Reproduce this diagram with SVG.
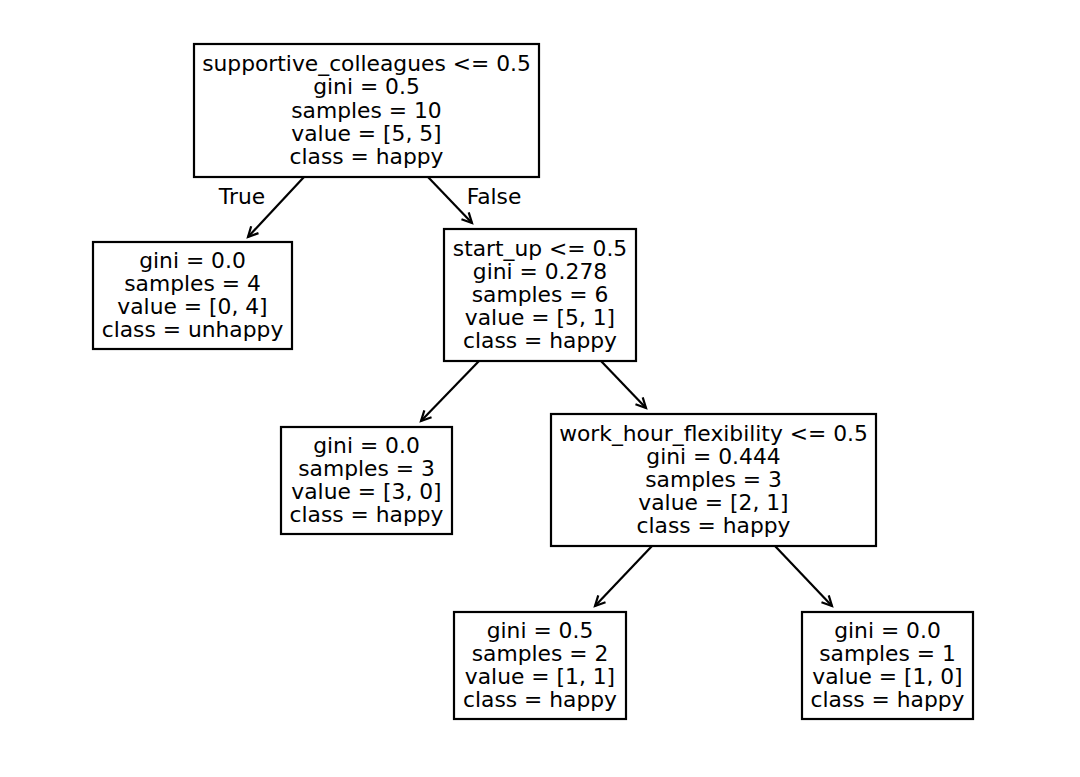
<svg xmlns="http://www.w3.org/2000/svg" width="1080" height="777" viewBox="0 0 1080 777">
<style>
text{font-family:"DejaVu Sans","Liberation Sans",sans-serif;font-size:21.8px;fill:#000;text-anchor:middle}
.box{fill:#fff;stroke:#000;stroke-width:2.2}
.edge{stroke:#000;stroke-width:2.2;fill:none}
</style>
<defs>
<marker id="arr" markerUnits="userSpaceOnUse" markerWidth="24" markerHeight="24" refX="0" refY="0" viewBox="-12 -12 24 24" orient="auto" overflow="visible">
<path d="M-10,-5 L0,0 L-10,5" fill="none" stroke="#000" stroke-width="2.2"/>
</marker>
</defs>
<rect width="1080" height="777" fill="#fff"/>
<g id="connectors">
<line class="edge" x1="304" y1="177" x2="248" y2="237" marker-end="url(#arr)"/>
<line class="edge" x1="428" y1="177" x2="472" y2="223" marker-end="url(#arr)"/>
<line class="edge" x1="479" y1="361" x2="421" y2="421" marker-end="url(#arr)"/>
<line class="edge" x1="601" y1="361" x2="646" y2="408" marker-end="url(#arr)"/>
<line class="edge" x1="652" y1="546" x2="595" y2="606" marker-end="url(#arr)"/>
<line class="edge" x1="775" y1="546" x2="832" y2="606" marker-end="url(#arr)"/>
<text x="242" y="204">True</text>
<text x="494" y="204">False</text>
</g>
<g id="node0">
<rect class="box" x="194" y="44" width="345" height="133"/>
<text><tspan x="366.5" y="71.1">supportive_colleagues &lt;= 0.5</tspan><tspan x="366.5" y="94.3">gini = 0.5</tspan><tspan x="366.5" y="117.5">samples = 10</tspan><tspan x="366.5" y="140.7">value = [5, 5]</tspan><tspan x="366.5" y="163.9">class = happy</tspan></text>
</g>
<g id="node1">
<rect class="box" x="93" y="242" width="199" height="107"/>
<text><tspan x="192.5" y="267.7">gini = 0.0</tspan><tspan x="192.5" y="290.9">samples = 4</tspan><tspan x="192.5" y="314.1">value = [0, 4]</tspan><tspan x="192.5" y="337.3">class = unhappy</tspan></text>
</g>
<g id="node2">
<rect class="box" x="444" y="229" width="192" height="132"/>
<text><tspan x="540" y="255.6">start_up &lt;= 0.5</tspan><tspan x="540" y="278.8">gini = 0.278</tspan><tspan x="540" y="302">samples = 6</tspan><tspan x="540" y="325.2">value = [5, 1]</tspan><tspan x="540" y="348.4">class = happy</tspan></text>
</g>
<g id="node3">
<rect class="box" x="281" y="427" width="171" height="107"/>
<text><tspan x="366.5" y="452.7">gini = 0.0</tspan><tspan x="366.5" y="475.9">samples = 3</tspan><tspan x="366.5" y="499.1">value = [3, 0]</tspan><tspan x="366.5" y="522.3">class = happy</tspan></text>
</g>
<g id="node4">
<rect class="box" x="551" y="414" width="325" height="132"/>
<text><tspan x="713.5" y="440.6">work_hour_flexibility &lt;= 0.5</tspan><tspan x="713.5" y="463.8">gini = 0.444</tspan><tspan x="713.5" y="487">samples = 3</tspan><tspan x="713.5" y="510.2">value = [2, 1]</tspan><tspan x="713.5" y="533.4">class = happy</tspan></text>
</g>
<g id="node5">
<rect class="box" x="454" y="612" width="172" height="107"/>
<text><tspan x="540" y="637.7">gini = 0.5</tspan><tspan x="540" y="660.9">samples = 2</tspan><tspan x="540" y="684.1">value = [1, 1]</tspan><tspan x="540" y="707.3">class = happy</tspan></text>
</g>
<g id="node6">
<rect class="box" x="802" y="612" width="171" height="107"/>
<text><tspan x="887.5" y="637.7">gini = 0.0</tspan><tspan x="887.5" y="660.9">samples = 1</tspan><tspan x="887.5" y="684.1">value = [1, 0]</tspan><tspan x="887.5" y="707.3">class = happy</tspan></text>
</g>
</svg>
